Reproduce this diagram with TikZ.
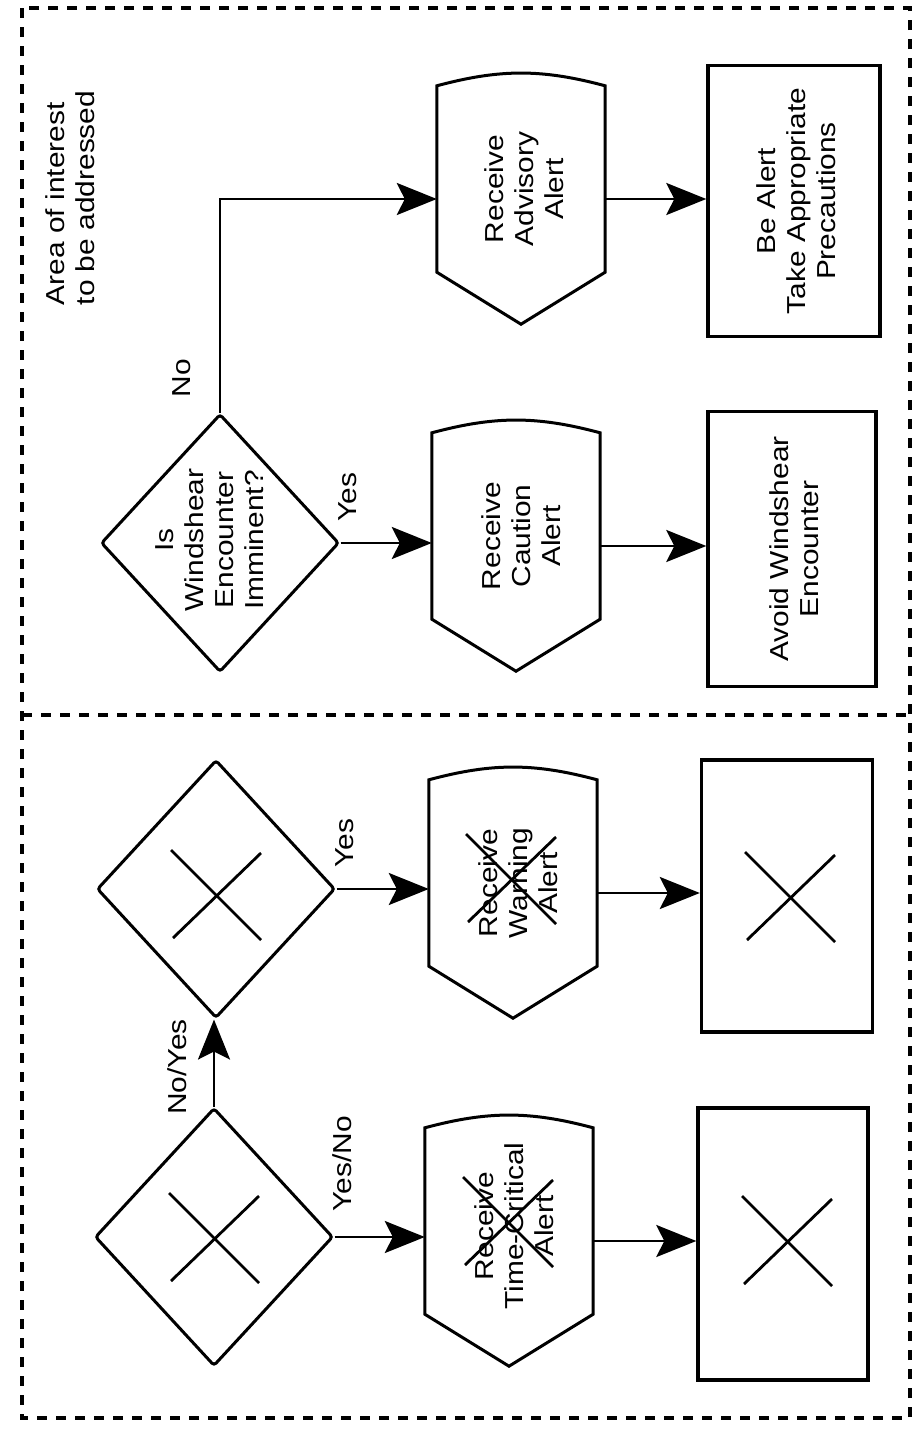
\documentclass[tikz,border=0pt]{standalone}
\usepackage{fontspec}
\setmainfont{Liberation Sans}
\usetikzlibrary{shapes.geometric,arrows.meta,calc}
\newcommand\alertpath[1]{%
  \draw[ln] ($(#1.north west)+(0,12)$) to[bend left=15] ($(#1.north east)+(0,12)$)
    -- ($(#1.south east)+(0,-52)$) -- (#1.south) -- ($(#1.south west)+(0,-52)$) -- cycle;}
\newcommand\xcross[1]{%
  \draw[xmark] ($#1+(-45,-45)$) -- ($#1+(45,45)$);
  \draw[xmark] ($#1+(45,-42)$) -- ($#1+(-43,43)$);}
\begin{document}
\begin{tikzpicture}[x=1pt,y=-1pt,
  txt/.style={rotate=90, xscale=1.15, align=center, font=\fontsize{26}{30}\selectfont, inner sep=0pt},
  ln/.style={line width=3pt},
  arr/.style={line width=2.8pt, -{Stealth[length=40pt,width=32pt,inset=8pt]}},
  dia/.style={diamond, draw, line width=3pt, rounded corners=3pt, minimum width=238pt, minimum height=258pt, inner sep=0pt},
  boxx/.style={rectangle, draw, line width=3.4pt, inner sep=0pt},
  alrt/.style={rectangle, draw=none, minimum width=168pt, minimum height=250pt, inner sep=0pt},
  xmark/.style={line width=2.8pt},
  frame/.style={line width=3.4pt, dash pattern=on 10pt off 9pt},
]
\useasboundingbox (0,0) rectangle (915,1435);

% frame
\draw[frame] (22,8) rectangle (910,1418);
\draw[frame] (22,715) -- (910,715);

% ---------- upper section ----------
\node[txt, align=left] (area) at (70,198) {Area of interest\\to be addressed};

\node[dia] (dA) at (220,543) {};
\node[txt] (dAt) at (210,540) {Is\\Windshear\\Encounter\\Imminent?};

\node[alrt] (adv) at (521,199) {};
\alertpath{adv}
\node[txt] (advt) at (524,189) {Receive\\Advisory\\Alert};

\node[alrt] (cau) at (516,546) {};
\alertpath{cau}
\node[txt] (caut) at (521,536) {Receive\\Caution\\Alert};

\node[boxx, minimum width=172pt, minimum height=271pt] (bea) at (794,201) {};
\node[txt] (beat) at (796,201) {Be Alert\\Take Appropriate\\Precautions};

\node[boxx, minimum width=168pt, minimum height=275pt] (avd) at (792,549) {};
\node[txt] (avdt) at (794,549) {Avoid Windshear\\Encounter};

\node[txt] (lyesA) at (348,497) {Yes};
\node[txt] (lnoA) at (182,378) {No};

\draw[arr] (dA.east) -- (dA.east -| cau.west);
\draw[arr] (dA.north) |- (adv.west);
\draw[arr] (adv.east) -- (adv.east -| bea.west);
\draw[arr] (cau.east) -- (cau.east -| avd.west);

% ---------- lower section ----------
\node[dia] (d1) at (216,889) {};
\node[dia] (d2) at (214,1237) {};

\node[alrt] (warn) at (513,893) {};
\alertpath{warn}
\node[txt] (warnt) at (518,883) {Receive\\Warning\\Alert};

\node[alrt] (tc) at (509,1241) {};
\alertpath{tc}
\node[txt] (tct) at (514,1226) {Receive\\Time-Critical\\Alert};

\node[boxx, minimum width=171pt, minimum height=272pt] (wb) at (787,896) {};
\node[boxx, minimum width=170pt, minimum height=272pt] (tb) at (783,1244) {};

\node[txt] (lyes1) at (345,843) {Yes};
\node[txt] (lnoyes) at (177,1067) {No/Yes};
\node[txt] (lyesno) at (342,1164) {Yes/No};

\draw[arr] (d1.east) -- (d1.east -| warn.west);
\draw[arr] (warn.east) -- (warn.east -| wb.west);
\draw[arr] (d2.east) -- (d2.east -| tc.west);
\draw[arr] (tc.east) -- (tc.east -| tb.west);
\draw[arr] (d2.north) -- (d2.north |- d1.south);

% crosses
\xcross{(216,895)}
\xcross{(214,1238)}
\xcross{(511,879)}
\xcross{(508,1222)}
\xcross{(790,897)}
\xcross{(787,1241)}
\end{tikzpicture}
\end{document}
